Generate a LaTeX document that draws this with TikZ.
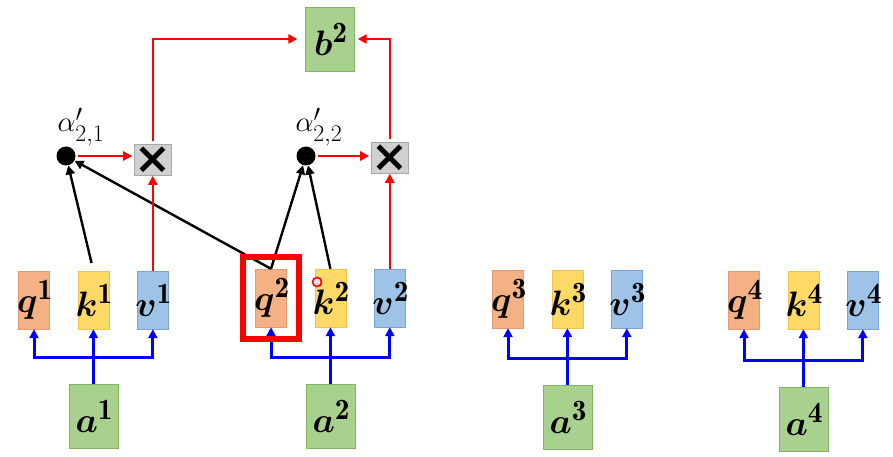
\documentclass[tikz,border=0pt]{standalone}
\usepackage{amsmath}
\usepackage{amssymb}
\usepackage{graphicx}
\usepackage{fontspec}
\usepackage{xcolor}
\usepackage{tikz}
\usetikzlibrary{positioning,arrows.meta,fit}

\newfontfamily\crossfont{DejaVu Sans}
\definecolor{qfill}{HTML}{F4B183}
\definecolor{qline}{HTML}{E39A72}
\definecolor{kfill}{HTML}{FFD966}
\definecolor{kline}{HTML}{F2C24E}
\definecolor{vfill}{HTML}{9DC3E6}
\definecolor{vline}{HTML}{7BA3D3}
\definecolor{gfill}{HTML}{A9D18E}
\definecolor{gline}{HTML}{82B465}
\definecolor{xfill}{HTML}{D0D0D0}
\definecolor{xline}{HTML}{A6A6A6}
\newcommand{\veclab}[2]{\makebox[0pt]{\hspace{2pt}\scalebox{1.42}{\Huge$\boldsymbol{#1}^{\mathbf{#2}}$}}}

\begin{document}
\begin{tikzpicture}[x=1pt, y=-1pt,
  node distance=28pt,
  vec/.style={minimum width=31pt, minimum height=58pt, inner sep=0pt},
  qbox/.style={vec, draw=qline, fill=qfill},
  kbox/.style={vec, draw=kline, fill=kfill},
  vbox/.style={vec, draw=vline, fill=vfill},
  gbox/.style={draw=gline, fill=gfill, minimum width=49pt, minimum height=64pt, inner sep=0pt},
  mulbox/.style={draw=xline, fill=xfill, minimum size=31pt, inner sep=0pt, font=\crossfont\bfseries\fontsize{44}{44}\selectfont},
  dot/.style={circle, fill=black, minimum size=19pt, inner sep=0pt},
  blu/.style={->, draw=blue, line width=3pt},
  redarr/.style={->, draw=red, line width=2.4pt},
  blkarr/.style={->, draw=black, line width=2.4pt},
  >={Triangle[length=9pt,width=9pt]}]
\useasboundingbox (0,0) rectangle (893,457);
\node[qbox] (q1) at (34,300) {\veclab{q}{1}};
\node[kbox, right=of q1] (k1) {\veclab{k}{1}};
\node[vbox, right=of k1] (v1) {\veclab{v}{1}};
\node[gbox, below=55pt of k1] (a1) {\veclab{a}{1}};
\node[qbox] (q2) at (271,298) {\veclab{q}{2}};
\node[kbox, right=of q2] (k2) {\veclab{k}{2}};
\node[vbox, right=of k2] (v2) {\veclab{v}{2}};
\node[gbox, below=57pt of k2] (a2) {\veclab{a}{2}};
\node[qbox] (q3) at (508,299) {\veclab{q}{3}};
\node[kbox, right=of q3] (k3) {\veclab{k}{3}};
\node[vbox, right=of k3] (v3) {\veclab{v}{3}};
\node[gbox, below=57pt of k3] (a3) {\veclab{a}{3}};
\node[qbox] (q4) at (744,300) {\veclab{q}{4}};
\node[kbox, right=of q4] (k4) {\veclab{k}{4}};
\node[vbox, right=of k4] (v4) {\veclab{v}{4}};
\node[gbox, below=58pt of k4] (a4) {\veclab{a}{4}};
\node[gbox] (b2) at (330,39) {\veclab{b}{2}};
\node[mulbox, above=95pt of v1] (mul1) {×};
\node[mulbox, above=95pt of v2] (mul2) {×};
\node[dot] (dot1) at (66,156) {};
\node[dot] (dot2) at (306,156) {};
\node[above=-3pt of dot1, xshift=15pt] (al21) {\scalebox{1.15}{\Huge$\alpha'_{2,1}$}};
\node[above=-3pt of dot2, xshift=13pt] (al22) {\scalebox{1.15}{\Huge$\alpha'_{2,2}$}};
\foreach \i in {1,2,3,4} {
  \draw[blu] (a\i.north) -- ++(0,-27) -| (q\i.south);
  \draw[blu] (a\i.north) -- ++(0,-27) -| (v\i.south);
  \draw[blu] (a\i.north) -- (k\i.south);
}
\draw[blkarr, shorten <=8pt] (k1.north) -- (dot1);
\draw[blkarr] (q2.north) -- (dot1);
\draw[blkarr] (q2.north) -- (dot2);
\draw[blkarr] (k2.north) -- (dot2);
\draw[redarr] (v1.north) -- (mul1.south);
\draw[redarr] (v2.north) -- (mul2.south);
\draw[redarr, shorten <=2pt, shorten >=2pt] (dot1.east) -- (dot1.east -| mul1.west);
\draw[redarr, shorten <=2pt, shorten >=2pt] (dot2.east) -- (dot2.east -| mul2.west);
\draw[redarr, shorten <=3pt, shorten >=8pt] (mul1.north) |- (b2.west);
\draw[redarr, shorten <=3pt, shorten >=3pt] (mul2.north) |- (b2.east);
\node[draw=red, line width=6pt, fit=(q2), inner sep=12pt] (hl) {};
\node[circle, draw=red, fill=red!12, line width=1.6pt, minimum size=9pt, inner sep=0pt] (ptr) at (317,282) {};
\end{tikzpicture}
\end{document}
